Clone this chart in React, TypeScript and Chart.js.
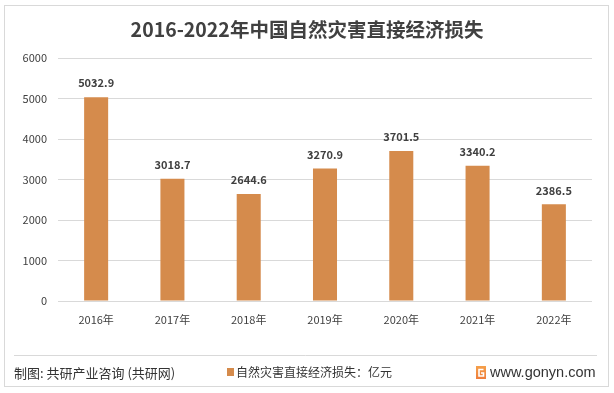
import React, { useEffect, useRef } from "react";
import { Chart, registerables } from "chart.js";

Chart.register(...registerables);

const categories = ["2016年", "2017年", "2018年", "2019年", "2020年", "2021年", "2022年"];
const lossValues = [5032.9, 3018.7, 2644.6, 3270.9, 3701.5, 3340.2, 2386.5];
const yTicks = [0, 1000, 2000, 3000, 4000, 5000, 6000];
const titleText = "2016-2022年中国自然灾害直接经济损失";
const seriesName = "自然灾害直接经济损失：亿元";
const sourceText = "制图: 共研产业咨询 (共研网)";
const siteText = "www.gonyn.com";

const FONT = "'Noto Sans CJK SC', 'Noto Sans', sans-serif";
const BAR_COLOR = "#D58B4C";
const TEXT_DARK = "#404040";

const decorPlugin = {
  id: "decor",
  beforeDraw(chart: any) {
    const { ctx, width, height } = chart;
    ctx.save();
    ctx.fillStyle = "#ffffff";
    ctx.fillRect(0, 0, width, height);
    ctx.restore();
  },
  afterDraw(chart: any) {
    const { ctx } = chart;
    ctx.save();
    // outer border
    ctx.strokeStyle = "#D9D9D9";
    ctx.lineWidth = 1;
    ctx.strokeRect(4.5, 5.5, 604, 381);
    // separator
    ctx.beginPath();
    ctx.moveTo(14, 355.5);
    ctx.lineTo(597, 355.5);
    ctx.stroke();
    // title
    ctx.fillStyle = TEXT_DARK;
    ctx.font = `bold 19.5px ${FONT}`;
    ctx.textAlign = "center";
    ctx.textBaseline = "middle";
    ctx.fillText(titleText, 307, 30);
    // footer source
    ctx.font = `13px ${FONT}`;
    ctx.textAlign = "left";
    ctx.fillStyle = "#333333";
    ctx.fillText(sourceText, 14, 373);
    // legend
    ctx.fillStyle = BAR_COLOR;
    ctx.fillRect(227, 368, 7, 8);
    ctx.fillStyle = "#333333";
    ctx.font = `12px ${FONT}`;
    ctx.fillText(seriesName, 236, 372);
    // logo
    const g = ctx.createLinearGradient(476, 366, 476, 380);
    g.addColorStop(0, "#F5A04A");
    g.addColorStop(1, "#EE7A3A");
    ctx.fillStyle = g;
    ctx.fillRect(476, 366, 10, 13);
    ctx.strokeStyle = "#ffffff";
    ctx.lineWidth = 1.6;
    ctx.beginPath();
    ctx.moveTo(483.5, 369.5);
    ctx.lineTo(479, 369.5);
    ctx.lineTo(479, 376);
    ctx.lineTo(483.5, 376);
    ctx.lineTo(483.5, 373);
    ctx.lineTo(481, 373);
    ctx.stroke();
    // site
    ctx.fillStyle = "#333333";
    ctx.font = `14.5px 'Liberation Sans', Arial, sans-serif`;
    ctx.fillText(siteText, 490, 373);
    ctx.restore();
  },
};

const labelPlugin = {
  id: "barLabels",
  afterDatasetsDraw(chart: any) {
    const { ctx } = chart;
    const meta = chart.getDatasetMeta(0);
    ctx.save();
    ctx.fillStyle = TEXT_DARK;
    ctx.font = `bold 11px ${FONT}`;
    ctx.textAlign = "center";
    ctx.textBaseline = "middle";
    meta.data.forEach((bar: any, i: number) => {
      ctx.fillText(lossValues[i].toFixed(1), bar.x, bar.y - 14);
    });
    ctx.restore();
  },
};

export default function App() {
  const canvasRef = useRef<HTMLCanvasElement | null>(null);

  useEffect(() => {
    document.body.style.margin = "0";
    const canvas = canvasRef.current;
    if (!canvas) return;
    const chart = new Chart(canvas, {
      type: "bar",
      data: {
        labels: categories,
        datasets: [
          {
            label: seriesName,
            data: lossValues,
            backgroundColor: BAR_COLOR,
            categoryPercentage: 1,
            barPercentage: 0.315,
          },
        ],
      },
      options: {
        animation: false,
        responsive: false,
        devicePixelRatio: 1,
        layout: { padding: { top: 58, left: 0, right: 22, bottom: 62 } },
        plugins: {
          legend: { display: false },
          title: { display: false },
          tooltip: { enabled: false },
        },
        scales: {
          x: {
            grid: { display: false, drawTicks: false },
            border: { display: false },
            ticks: {
              color: "#404040",
              font: { family: FONT, size: 11 },
              padding: 12,
            },
            afterFit(scale: any) {
              scale.height = 30;
            },
          },
          y: {
            min: 0,
            max: 6000,
            afterBuildTicks(scale: any) {
              scale.ticks = yTicks.map((v) => ({ value: v }));
            },
            grid: { color: "#D9D9D9", drawTicks: false, lineWidth: 1 },
            border: { display: false },
            ticks: {
              color: "#404040",
              font: { family: FONT, size: 11 },
              padding: 11,
              callback: (v: any) => String(v),
            },
            afterFit(scale: any) {
              scale.width = 58;
            },
          },
        },
      },
      plugins: [decorPlugin, labelPlugin],
    });
    return () => chart.destroy();
  }, []);

  return (
    <div style={{ position: "absolute", left: 0, top: 0, width: 614, height: 393 }}>
      <canvas ref={canvasRef} width={614} height={393} />
    </div>
  );
}
